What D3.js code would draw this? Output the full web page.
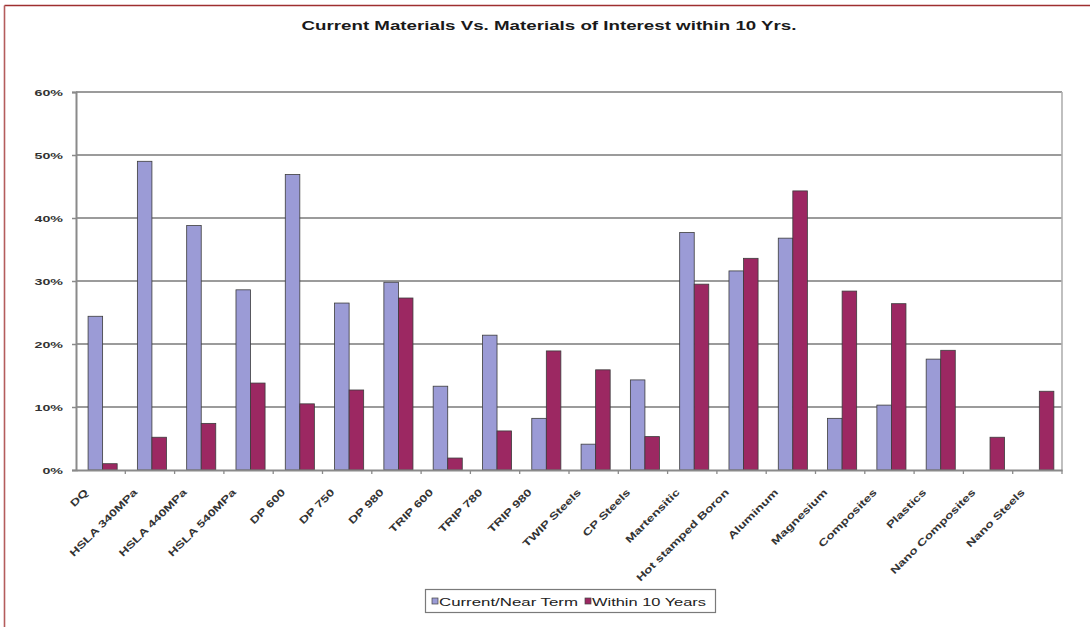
<!DOCTYPE html>
<html>
<head>
<meta charset="utf-8">
<script src="https://cdn.jsdelivr.net/npm/d3@7"></script>
<style>
  html, body { margin: 0; padding: 0; background: #fff; }
  svg { display: block; font-family: "Liberation Sans", Arial, sans-serif; }
</style>
</head>
<body>
<svg id="chart" width="1090" height="627"></svg>
<script>
const title = "Current Materials Vs. Materials of Interest within 10 Yrs.";
const categories = ["DQ", "HSLA 340MPa", "HSLA 440MPa", "HSLA 540MPa", "DP 600", "DP 750", "DP 980",
  "TRIP 600", "TRIP 780", "TRIP 980", "TWIP Steels", "CP Steels", "Martensitic", "Hot stamped Boron",
  "Aluminum", "Magnesium", "Composites", "Plastics", "Nano Composites", "Nano Steels"];
const currentNearTerm = [0.244, 0.490, 0.388, 0.286, 0.469, 0.265, 0.298, 0.133, 0.214, 0.082, 0.041,
  0.143, 0.377, 0.316, 0.368, 0.082, 0.103, 0.176, 0, 0];
const within10Years = [0.010, 0.052, 0.074, 0.138, 0.105, 0.127, 0.273, 0.019, 0.062, 0.189, 0.159,
  0.053, 0.295, 0.336, 0.443, 0.284, 0.264, 0.190, 0.052, 0.125];
const seriesNames = ["Current/Near Term", "Within 10 Years"];
const yTicks = [0, 0.1, 0.2, 0.3, 0.4, 0.5, 0.6];

const colors = ["#9b9bd6", "#9c2862"];
const svg = d3.select("#chart");

// frame
svg.append("line").attr("x1", 4.5).attr("y1", 5.5).attr("x2", 1090).attr("y2", 5.5)
  .attr("stroke", "#9e2f30").attr("stroke-width", 1.6);
svg.append("line").attr("x1", 4.5).attr("y1", 5.5).attr("x2", 4.5).attr("y2", 627)
  .attr("stroke", "#b45c5c").attr("stroke-width", 1.6);

// title
svg.append("text").attr("x", 549).attr("y", 30).attr("text-anchor", "middle")
  .attr("font-size", 13.5).attr("font-weight", "bold").attr("fill", "#1a1a1a")
  .attr("textLength", 495).attr("lengthAdjust", "spacingAndGlyphs")
  .text(title);

const L = 76, R = 1062, T = 92, B = 470;
const x0 = d3.scaleBand().domain(categories).range([L, R]).padding(0);
const bw = x0.bandwidth();
const x1 = d3.scaleBand().domain(seriesNames).range([bw * 0.245, bw * 0.835]).padding(0);
const y = d3.scaleLinear().domain([0, 0.6]).range([B, T]);

// gridlines
svg.append("g").selectAll("line").data(yTicks.filter(d => d > 0)).join("line")
  .attr("x1", L).attr("x2", R).attr("y1", d => y(d)).attr("y2", d => y(d))
  .attr("stroke", "#7a7a7a").attr("stroke-width", 1.6);
// right border of plot
svg.append("line").attr("x1", R).attr("x2", R).attr("y1", T).attr("y2", B)
  .attr("stroke", "#b0b0b0").attr("stroke-width", 1.6);

// bars
const rows = categories.map((c, i) => ({ c, vals: [currentNearTerm[i], within10Years[i]] }));
const g = svg.append("g").selectAll("g").data(rows).join("g")
  .attr("transform", d => `translate(${x0(d.c)},0)`);
g.selectAll("rect").data(d => d.vals.map((v, k) => ({ v, k })).filter(e => e.v > 0)).join("rect")
  .attr("x", e => x1(seriesNames[e.k]))
  .attr("width", x1.bandwidth())
  .attr("y", e => y(e.v))
  .attr("height", e => B - y(e.v))
  .attr("fill", e => colors[e.k])
  .attr("stroke", "#3c3c3c").attr("stroke-width", 0.8);

// y axis
const yAxis = d3.axisLeft(y).tickValues(yTicks).tickFormat(d3.format(".0%")).tickSize(4).tickPadding(9);
const ya = svg.append("g").attr("transform", `translate(${L},0)`).call(yAxis);
ya.select(".domain").attr("stroke", "#8a8a8a").attr("stroke-width", 2);
ya.selectAll(".tick line").attr("stroke", "#8a8a8a").attr("stroke-width", 1.5);
ya.selectAll(".tick text").each(function() {
  const t = d3.select(this);
  const xx = +t.attr("x");
  t.attr("x", null).attr("dy", null)
   .attr("transform", `translate(${xx},3.5) scale(1.5,1)`)
   .attr("font-size", 9.5).attr("font-weight", "bold").attr("fill", "#333")
   .attr("font-family", "Liberation Sans, Arial, sans-serif");
});

// x axis
const xAxis = d3.axisBottom(x0).tickSize(0).tickFormat("");
const xa = svg.append("g").attr("transform", `translate(0,${B})`).call(xAxis);
xa.select(".domain").attr("stroke", "#8a8a8a").attr("stroke-width", 2);
// boundary ticks
svg.append("g").selectAll("line").data(categories.slice(1).concat(["__end"])).join("line")
  .attr("x1", (d, i) => L + bw * (i + 1)).attr("x2", (d, i) => L + bw * (i + 1))
  .attr("y1", B).attr("y2", B + 4)
  .attr("stroke", "#8a8a8a").attr("stroke-width", 1.3);

// rotated labels
svg.append("g").selectAll("text").data(categories).join("text")
  .attr("transform", d => `translate(${x0(d) + bw / 2 - 12},${B + 23}) rotate(-45) scale(1.36,1)`)
  .attr("text-anchor", "end")
  .attr("font-size", 10).attr("font-weight", "bold").attr("fill", "#333")
  .text(d => d);

// legend
const lg = svg.append("g");
lg.append("rect").attr("x", 425.5).attr("y", 589.5).attr("width", 290).attr("height", 23)
  .attr("fill", "#fff").attr("stroke", "#7a7a7a").attr("stroke-width", 1.2);
const legendX = [432, 585];
const legendTextW = [139, 114];
seriesNames.forEach((n, i) => {
  lg.append("rect").attr("x", legendX[i]).attr("y", 598).attr("width", 6).attr("height", 6)
    .attr("fill", colors[i]).attr("stroke", "#444").attr("stroke-width", 0.7);
  lg.append("text").attr("x", legendX[i] + 7).attr("y", 605.5)
    .attr("font-size", 10).attr("fill", "#222")
    .attr("textLength", legendTextW[i]).attr("lengthAdjust", "spacingAndGlyphs")
    .text(n);
});
</script>
</body>
</html>
